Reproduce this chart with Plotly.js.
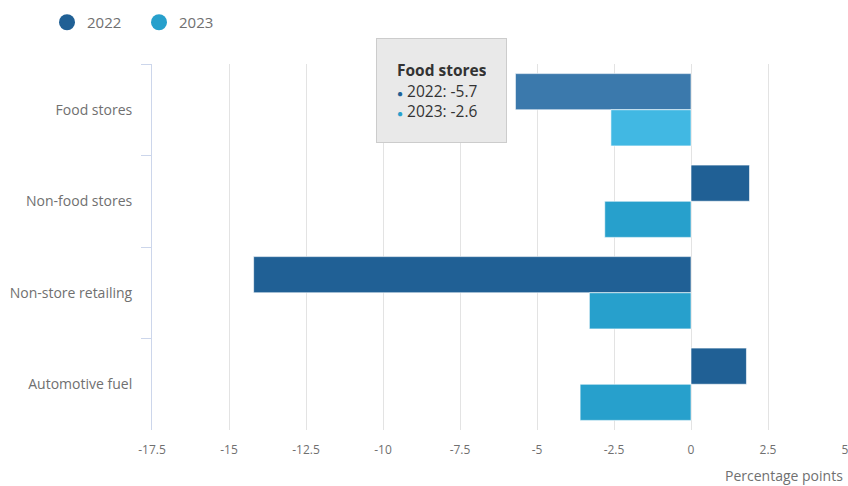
<!DOCTYPE html>
<html>
<head>
<meta charset="utf-8">
<script src="https://cdn.plot.ly/plotly-3.0.1.min.js"></script>
<style>
html,body{margin:0;padding:0;background:#fff;}
#chart{width:848px;height:486px;}
</style>
</head>
<body>
<div id="chart"></div>
<script>
const categories = ["Food stores", "Non-food stores", "Non-store retailing", "Automotive fuel"];
const seriesNames = ["2022", "2023"];
const values2022 = [-5.7, 1.9, -14.2, 1.8];
const values2023 = [-2.6, -2.8, -3.3, -3.6];
const xTicks = [-17.5, -15, -12.5, -10, -7.5, -5, -2.5, 0, 2.5, 5];
const xTickLabels = ["-17.5", "-15", "-12.5", "-10", "-7.5", "-5", "-2.5", "0", "2.5", "5"];
const xTitle = "Percentage points";
const hoveredIndex = 0;

const baseColors = ["#206095", "#27a0cc"];
const hoverColors = ["#3b79ac", "#41b8e3"];
const allValues = [values2022, values2023];

const traces = allValues.map((vals, s) => ({
  type: "bar",
  orientation: "h",
  name: seriesNames[s],
  y: categories,
  x: vals,
  showlegend: false,
  hoverinfo: "skip",
  marker: {
    color: vals.map((v, i) => i === hoveredIndex ? hoverColors[s] : baseColors[s]),
    line: {color: "rgba(255,255,255,0.6)", width: 1}
  }
}));

// legend entries with circle markers
seriesNames.forEach((n, s) => {
  traces.push({
    type: "scatter", mode: "markers", name: n,
    x: [null], y: [null],
    marker: {color: baseColors[s], size: 16, symbol: "circle"},
    showlegend: true, hoverinfo: "skip"
  });
});

const tipText = "<b>" + categories[hoveredIndex] + "</b><br>" +
  seriesNames.map((n, s) => "<span style='color:" + baseColors[s] + ";font-size:10px'>●</span> " + n + ": " + allValues[s][hoveredIndex]).join("<br>");

const layout = {
  width: 848, height: 486,
  margin: {l: 152, r: 3, t: 64, b: 56, autoexpand: false},
  paper_bgcolor: "#ffffff",
  plot_bgcolor: "#ffffff",
  font: {family: "Open Sans, sans-serif", color: "#707070", size: 13},
  barmode: "group",
  bargap: 0.21,
  bargroupgap: 0,
  showlegend: true,
  legend: {
    orientation: "h", xref: "container", yref: "container",
    x: 47 / 848, xanchor: "left", y: 1 - 6 / 486, yanchor: "top",
    font: {size: 15, color: "#707070"}, itemwidth: 30, tracegroupgap: 0,
    entrywidth: 47, entrywidthmode: "pixels"
  },
  xaxis: {
    range: [-17.5, 5],
    tickvals: xTicks, ticktext: xTickLabels,
    showgrid: true, gridcolor: "#e3e3e3", gridwidth: 1,
    zeroline: false, showline: false, ticks: "",
    ticklabeloverflow: "allow", ticklabelstandoff: 11,
    tickfont: {size: 12, color: "#707070"},
    fixedrange: true
  },
  yaxis: {
    type: "category",
    autorange: "reversed",
    showgrid: false, zeroline: false,
    showline: true, linecolor: "#ccd6eb", linewidth: 1,
    ticks: "outside", ticklen: 10, tickcolor: "#ccd6eb", tickson: "boundaries",
    ticklabelstandoff: 16,
    tickfont: {size: 14, color: "#707070"},
    fixedrange: true
  },
  annotations: [
    {
      xref: "paper", yref: "paper", x: 1, y: (430 - 476) / 366, xanchor: "right", yanchor: "middle",
      text: xTitle, showarrow: false, font: {size: 14, color: "#707070"}
    },
    {
      xref: "paper", yref: "paper", x: (376 - 152) / 693, y: (430 - 38) / 366,
      xanchor: "left", yanchor: "top", align: "left", valign: "middle",
      text: tipText, showarrow: false,
      font: {size: 15.5, color: "#333333"},
      bgcolor: "#e9e9e9", bordercolor: "#cccccc", borderwidth: 1, borderpad: 20,
      width: 89, height: 63
    }
  ]
};

Plotly.newPlot("chart", traces, layout, {displayModeBar: false, staticPlot: true});
</script>
</body>
</html>
